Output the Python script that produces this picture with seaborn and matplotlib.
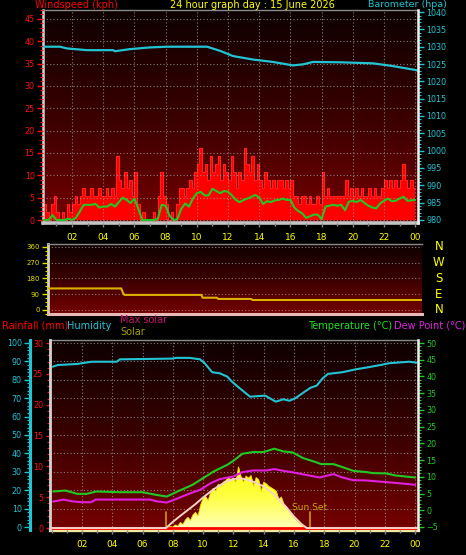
import numpy as np
import pandas as pd
import matplotlib
matplotlib.use("Agg")
import matplotlib.pyplot as plt
import matplotlib.transforms as mtransforms
import seaborn as sns
from matplotlib.colors import LinearSegmentedColormap
from matplotlib.ticker import MultipleLocator

sns.set_theme(style="ticks")
plt.rcParams["font.family"] = ["DejaVu Sans"]

# ---------------- data ----------------
title = "24 hour graph day : 15 June 2026"
hour_ticks = [2, 4, 6, 8, 10, 12, 14, 16, 18, 20, 22, 24]
hour_labels = ["02", "04", "06", "08", "10", "12", "14", "16", "18", "20", "22", "00"]

# wind speed (kph), 10-minute readings
wind_hours = np.arange(145) / 6.0
wind_speed = [
    1.8, 3.6, 1.8, 0, 3.6, 5.4,
    1.8, 0, 1.8, 0, 3.6, 1.8,
    3.6, 5.4, 3.6, 5.4, 7.2, 5.4,
    5.4, 7.2, 5.4, 5.4, 7.2, 5.4,
    5.4, 7.2, 5.4, 7.2, 5.4, 14.4,
    9.0, 7.2, 10.8, 7.2, 9.0, 5.4,
    10.8, 3.6, 0, 1.8, 0, 0,
    0, 1.8, 0, 5.4, 10.8, 5.4,
    3.6, 0, 1.8, 0, 3.6, 7.2,
    7.2, 5.4, 7.2, 9.0, 7.2, 10.8,
    12.6, 16.2, 10.8, 12.6, 9.0, 14.4,
    10.8, 12.6, 14.4, 9.0, 12.6, 10.8,
    9.0, 14.4, 10.8, 7.2, 10.8, 9.0,
    16.2, 12.6, 10.8, 14.4, 9.0, 12.6,
    9.0, 7.2, 10.8, 9.0, 7.2, 9.0,
    7.2, 9.0, 9.0, 7.2, 9.0, 7.2,
    9.0, 5.4, 5.4, 3.6, 5.4, 5.4,
    3.6, 5.4, 3.6, 3.6, 5.4, 3.6,
    10.8, 5.4, 7.2, 5.4, 5.4, 5.4,
    5.4, 5.4, 5.4, 9.0, 5.4, 7.2,
    5.4, 7.2, 5.4, 7.2, 5.4, 5.4,
    7.2, 5.4, 7.2, 5.4, 5.4, 7.2,
    9.0, 7.2, 9.0, 7.2, 9.0, 7.2,
    9.0, 12.6, 9.0, 7.2, 9.0, 7.2,
    7.2,
]

# average wind speed (kph), 15-minute readings
avg_hours = np.arange(97) / 4.0
avg_wind = [
    0, 0, 0, 1.1,   0, 0, 0, 0.3,   0, 0.5, 1.9, 3.4,   3.4, 3.4, 3.6, 2.8,
    3.0, 3.0, 3.6, 3.0,   4.0, 5.0, 4.5, 3.8,   4.8, 2.5, 0, 0,   0, 0, 0.3, 3.4,
    3.2, 1.0, 0, 0.2,   2.5, 3.7, 3.0, 4.8,   6.0, 6.3, 5.5, 5.5,   7.0, 6.5, 6.0, 6.5,
    6.3, 5.5, 4.5, 4.0,   4.5, 4.8, 5.2, 5.6,   5.0, 3.6, 4.2, 4.0,   4.4, 4.5, 4.8, 4.5,
    4.5, 2.8, 2.0, 1.5,   0.5, 0.8, 1.2, 1.2,   0.2, 3.0, 3.2, 3.4,   3.2, 3.4, 2.2, 4.1,
    4.3, 4.0, 4.5, 3.8,   3.2, 2.8, 2.6, 3.7,   4.3, 4.8, 4.2, 4.3,   4.8, 5.2, 4.3, 4.4,
    4.5,
]

# barometer (hPa)
baro_hours = [0.14, 1.23, 1.68, 2.96, 4.63, 4.76, 5.72, 7.0, 8.09, 10.65, 11.5, 12.32,
              13.6, 14.88, 16.17, 16.8, 17.45, 19.18, 21.3, 22.58, 23.99, 24.18]
baro = [1030, 1030, 1029.5, 1029, 1029, 1028.7, 1029.3, 1029.8, 1030, 1030, 1028.8, 1027.3,
        1026.3, 1025.6, 1024.6, 1024.9, 1025.6, 1025.5, 1025.2, 1024.4, 1023.3, 1023.1]

# wind direction (degrees)
dir_hours = [0.14, 4.85, 4.95, 5.05, 10.0, 10.08, 11.0, 11.08, 13.2, 13.28, 24.18]
wind_dir = [123, 123, 100, 86, 86, 70, 70, 63, 63, 57, 57]
compass_deg = [0, 90, 180, 270, 360]
compass = ["N", "E", "S", "W", "N"]

# humidity (%)
hum_hours = [0.07, 0.4, 1.7, 2.0, 2.65, 4.3, 4.5, 8.0, 8.2, 9.1, 9.8, 10.1, 10.6, 11.1, 11.6,
             11.9, 12.3, 13.1, 14.1, 14.8, 15.3, 15.7, 16.1, 16.7, 17.1, 17.5, 17.9, 18.25,
             19.2, 20.1, 20.9, 21.7, 22.3, 23.6, 24.1]
humidity = [87.1, 88, 88.6, 89, 89.8, 89.8, 91.1, 91.5, 91.9, 91.9, 91.1, 89, 84.1, 83.5, 81.7,
            79, 76.2, 70.8, 71.4, 68.1, 69.4, 68.6, 70, 73.5, 75.7, 76.8, 80.8, 83.2,
            84.1, 85.7, 86.8, 88, 89, 89.8, 89.3]

# temperature and dew point (°C)
temp_hours = [0.1, 0.9, 1.7, 2.3, 2.95, 4.5, 6.0, 6.9, 7.6, 8.3, 9.3, 10.0, 10.7, 11.6, 12.0,
              12.6, 13.3, 14.0, 14.7, 15.3, 15.9, 16.6, 17.3, 17.8, 18.6, 19.2, 19.9, 20.8,
              21.2, 22.1, 22.7, 24.0]
temperature = [5.6, 5.9, 4.9, 4.9, 5.6, 5.4, 5.4, 4.6, 4.1, 5.6, 7.6, 9.6, 11.6, 13.6, 14.8,
               16.9, 17.4, 17.4, 18.4, 17.6, 17.3, 15.6, 14.6, 13.8, 13.8, 12.9, 11.8, 11.4,
               11.1, 11.0, 10.4, 9.8]
dew_hours = [0.1, 0.8, 1.3, 2.0, 2.6, 2.9, 4.5, 6.5, 6.9, 7.6, 8.3, 9.1, 9.8, 10.5, 11.1, 12.0,
             12.6, 13.3, 14.2, 14.7, 15.3, 16.2, 17.1, 17.7, 18.6, 19.2, 19.9, 20.8, 22.1,
             22.9, 24.0]
dew_point = [2.6, 3.2, 2.7, 2.4, 2.4, 3.2, 3.2, 3.2, 2.7, 2.3, 3.5, 5.0, 6.1, 8.1, 9.3, 10.1,
             11.4, 11.9, 11.9, 12.3, 11.8, 11.1, 10.3, 9.8, 10.8, 9.8, 9.0, 8.9, 8.4,
             8.1, 7.6]

# rainfall (mm)
rain_hours = [-0.11, 24.19]
rain = [0.0, 0.0]

# solar (W/m2)
maxsol_hours = [-0.11, 7.55, 8.0, 8.5, 9.0, 9.5, 10.0, 10.5, 11.0, 11.5, 12.0, 12.5, 13.0,
                13.5, 14.0, 14.5, 15.0, 15.5, 16.0, 16.5, 16.85, 24.19]
max_solar = [0, 0, 120, 240, 355, 470, 600, 715, 820, 905, 960, 975, 940,
             885, 815, 700, 565, 405, 225, 75, 0, 0]
solar_hours = 7.5 + np.arange(58) / 6.0
solar = [
    0, 10, 30,
    20, 60, 40, 110, 70, 160,
    210, 150, 260, 310, 240, 450,
    580, 620, 540, 700, 780, 720,
    860, 820, 900, 930, 1000, 950,
    980, 900, 1200, 1010, 900, 1020,
    980, 1030, 820, 990, 950, 720,
    900, 870, 820, 790, 760, 720,
    560, 610, 470, 420, 340, 270,
    210, 150, 100, 60, 25, 0,
    0,
]
sunrise = 7.58
sunset = 17.06

# ---------------- styling ----------------
W, H = 466, 555
fig = plt.figure(figsize=(W / 100, H / 100), dpi=100, facecolor="black")

RED = "#ff1010"
CYAN = "#22c4d4"
YEL = "#ffff00"
GRN = "#22c822"
MAG = "#e020e0"
GRIDC = "#9a9a9a"

bg_cmap = LinearSegmentedColormap.from_list("bg", ["#0e0000", "#3a0000", "#760000"])


def px_axes(x0, y0, x1, y1):
    return fig.add_axes([x0 / W, 1 - y1 / H, (x1 - x0) / W, (y1 - y0) / H])


def ftext(x, y, s, **kw):
    kw.setdefault("va", "center")
    kw.setdefault("fontsize", 7)
    fig.text(x / W, 1 - y / H, s, **kw)


def paint_bg(ax):
    ax.imshow(np.linspace(0, 1, 256).reshape(-1, 1), cmap=bg_cmap, aspect="auto",
              extent=(0, 1, 0, 1), origin="upper", transform=ax.transAxes,
              zorder=0, interpolation="bilinear")


def hide_spines(ax):
    for s in ax.spines.values():
        s.set_visible(False)


def grid(ax, axis="both"):
    ax.grid(True, which="major", axis=axis, color=GRIDC, ls=(0, (1, 2)), lw=0.8, alpha=0.8)
    ax.set_axisbelow(False)


def hour_axis(ax, labels=True):
    ax.set_xticks(hour_ticks)
    ax.set_xticklabels(hour_labels if labels else [])
    ax.xaxis.set_minor_locator(MultipleLocator(1))
    ax.tick_params(axis="x", which="both", colors="#888888", labelcolor=YEL,
                   labelsize=6.5, direction="out", pad=4)
    ax.tick_params(axis="x", which="major", length=3, width=1)
    ax.tick_params(axis="x", which="minor", length=2, width=1)


def yticks(ax, major, minor, color, size=5.8, length=4):
    ax.yaxis.set_major_locator(MultipleLocator(major))
    ax.yaxis.set_minor_locator(MultipleLocator(minor))
    ax.tick_params(axis="y", which="both", colors=color, labelsize=size, direction="out", pad=2)
    ax.tick_params(axis="y", which="major", length=length, width=1)
    ax.tick_params(axis="y", which="minor", length=2, width=0.8)


# ================= Panel 1: wind speed & barometer =================
ax1 = px_axes(43, 10, 418, 223)
paint_bg(ax1)
ax1.fill_between(wind_hours, wind_speed, step="post", color="#ff0000", lw=0, zorder=1.5)
sns.lineplot(x=wind_hours, y=wind_speed, ax=ax1, drawstyle="steps-post", color="#ff2020",
             lw=0.8, legend=False, zorder=1.6)
sns.lineplot(x=avg_hours, y=avg_wind, ax=ax1, color=GRN, lw=1.5, legend=False, zorder=3)
ax1.set_xlim(0.14, 24.18)
ax1.set_ylim(-0.67, 47.0)
hour_axis(ax1)
yticks(ax1, 5, 1, RED)
grid(ax1)
ax1.set_xlabel("")
ax1.set_ylabel("")
hide_spines(ax1)
for side, col, lw in [("left", "#d4d4d4", 1.8), ("top", "#8a8a8a", 1.0), ("bottom", "#c4c4c4", 2.6)]:
    ax1.spines[side].set_visible(True)
    ax1.spines[side].set_color(col)
    ax1.spines[side].set_linewidth(lw)

ax1b = ax1.twinx()
sns.lineplot(x=baro_hours, y=baro, ax=ax1b, color=CYAN, lw=1.6, legend=False)
ax1b.set_ylim(979.1, 1040.6)
ax1b.set_ylabel("")
yticks(ax1b, 5, 1, CYAN)
hide_spines(ax1b)
ax1b.spines["right"].set_visible(True)
ax1b.spines["right"].set_color("#f0f0f0")
ax1b.spines["right"].set_linewidth(1.8)

ftext(35, 5, "Windspeed (kph)", color="#ff0000")
ftext(252, 5, title, color=YEL, ha="center")
ftext(447, 4.5, "Barometer (hpa)", color=CYAN, ha="right", fontsize=6.8)

# ================= Panel 2: wind direction =================
ax2 = px_axes(48, 244, 422, 314)
paint_bg(ax2)
sns.lineplot(x=dir_hours, y=wind_dir, ax=ax2, color="#dcb000", lw=1.5, legend=False, zorder=3)
ax2.set_xlim(0.14, 24.18)
ax2.set_ylim(-23, 377)
ax2.set_xticks([])
ax2.set_yticks(compass_deg)
ax2.yaxis.set_minor_locator(MultipleLocator(22.5))
ax2.tick_params(axis="y", which="both", colors="#e0e000", labelsize=5, direction="out", pad=2)
ax2.tick_params(axis="y", which="major", length=4, width=1)
ax2.tick_params(axis="y", which="minor", length=2, width=0.8)
grid(ax2, axis="y")
ax2.set_xlabel("")
ax2.set_ylabel("")
hide_spines(ax2)
for side, col, lw in [("left", "#d4d4d4", 2.0), ("top", "#8a8a8a", 1.0), ("bottom", "#e8b8b8", 2.2)]:
    ax2.spines[side].set_visible(True)
    ax2.spines[side].set_color(col)
    ax2.spines[side].set_linewidth(lw)
tr2 = mtransforms.blended_transform_factory(ax2.transAxes, ax2.transData)
for d, c in zip(compass_deg, compass):
    ax2.text(1.045, d, c, transform=tr2, color=YEL, fontsize=8.5, ha="center", va="center")

# ================= Panel 3: rain, humidity, solar, temperature =================
ax3h = px_axes(50, 340, 418, 530)
paint_bg(ax3h)
sns.lineplot(x=hum_hours, y=humidity, ax=ax3h, color=CYAN, lw=1.5, legend=False, zorder=3)
ax3h.set_xlim(-0.11, 24.19)
ax3h.set_ylim(-1.6, 101.6)
hour_axis(ax3h)
yticks(ax3h, 10, 2, CYAN, length=4)
grid(ax3h)
ax3h.set_xlabel("")
ax3h.set_ylabel("")
hide_spines(ax3h)
ax3h.spines["left"].set_visible(True)
ax3h.spines["left"].set_position(("outward", 14.4))
ax3h.spines["left"].set_color(CYAN)
ax3h.spines["left"].set_linewidth(2.2)
for side, col, lw in [("top", "#8a8a8a", 1.0), ("bottom", "#f0e8a0", 2.4)]:
    ax3h.spines[side].set_visible(True)
    ax3h.spines[side].set_color(col)
    ax3h.spines[side].set_linewidth(lw)

# solar
ax3s = ax3h.twinx()
poly = ax3s.fill_between(solar_hours, solar, color="#ffff30", lw=0, zorder=2)
sol_cmap = LinearSegmentedColormap.from_list("sol", ["#ffff10", "#ffff40", "#ffffb8"])
im = ax3s.imshow(np.linspace(0, 1, 128).reshape(-1, 1), cmap=sol_cmap, aspect="auto",
                 extent=(7.5, 17.0, 0, 1250), origin="upper", zorder=2.1,
                 interpolation="bilinear")
im.set_clip_path(poly.get_paths()[0], transform=ax3s.transData)
sns.lineplot(x=solar_hours, y=solar, ax=ax3s, color="#e8d000", lw=0.6, legend=False, zorder=2.2)
ax3s.axhline(0, color="#ffff80", lw=2.0, zorder=2.3)
ax3s.set_xlim(-0.11, 24.19)
ax3s.set_ylim(-39, 3686)
ax3s.yaxis.set_visible(False)
hide_spines(ax3s)
for hr in (sunrise, sunset):
    ax3s.axvline(hr, ymin=0.01, ymax=0.096, color="#c89000", lw=1.3, zorder=2.4)
trs = mtransforms.blended_transform_factory(ax3s.transData, ax3s.transAxes)
ax3s.text(sunset, 0.118, "Sun Set", transform=trs, color="#c8a800", fontsize=6.5,
          ha="center", va="center")

# rainfall
ax3r = ax3h.twinx()
sns.lineplot(x=rain_hours, y=rain, ax=ax3r, color="#ff0000", lw=2.0, legend=False)
ax3r.set_ylim(-0.3, 30.5)
ax3r.set_xlim(-0.11, 24.19)
ax3r.yaxis.tick_left()
ax3r.yaxis.set_label_position("left")
yticks(ax3r, 5, 1, RED, length=3)
ax3r.set_ylabel("")
hide_spines(ax3r)
ax3r.spines["left"].set_visible(True)
ax3r.spines["left"].set_color("#d4d4d4")
ax3r.spines["left"].set_linewidth(2.0)

# max solar
ax3m = ax3h.twinx()
sns.lineplot(x=maxsol_hours, y=max_solar, ax=ax3m, color="#f4d2c8", lw=1.4, legend=False)
ax3m.set_xlim(-0.11, 24.19)
ax3m.set_ylim(-39, 3686)
ax3m.yaxis.set_visible(False)
hide_spines(ax3m)

# temperature & dew point
ax3t = ax3h.twinx()
sns.lineplot(x=temp_hours, y=temperature, ax=ax3t, color=GRN, lw=1.5, legend=False)
sns.lineplot(x=dew_hours, y=dew_point, ax=ax3t, color=MAG, lw=1.5, legend=False)
ax3t.set_xlim(-0.11, 24.19)
ax3t.set_ylim(-5.9, 50.9)
yticks(ax3t, 5, 1, GRN)
ax3t.set_ylabel("")
hide_spines(ax3t)
ax3t.spines["right"].set_visible(True)
ax3t.spines["right"].set_color("#f0f0f0")
ax3t.spines["right"].set_linewidth(1.8)

ftext(2, 326, "Rainfall (mm)", color="#ff0000")
ftext(67, 326, "Humidity", color=CYAN)
ftext(120, 320, "Max solar", color="#c8106a")
ftext(120, 332, "Solar", color="#a8a000")
ftext(392, 326, "Temperature (°C)", color="#20e020", ha="right")
ftext(394, 326, "Dew Point (°C)", color=MAG)

fig.savefig("out.png", dpi=100, facecolor="black")
